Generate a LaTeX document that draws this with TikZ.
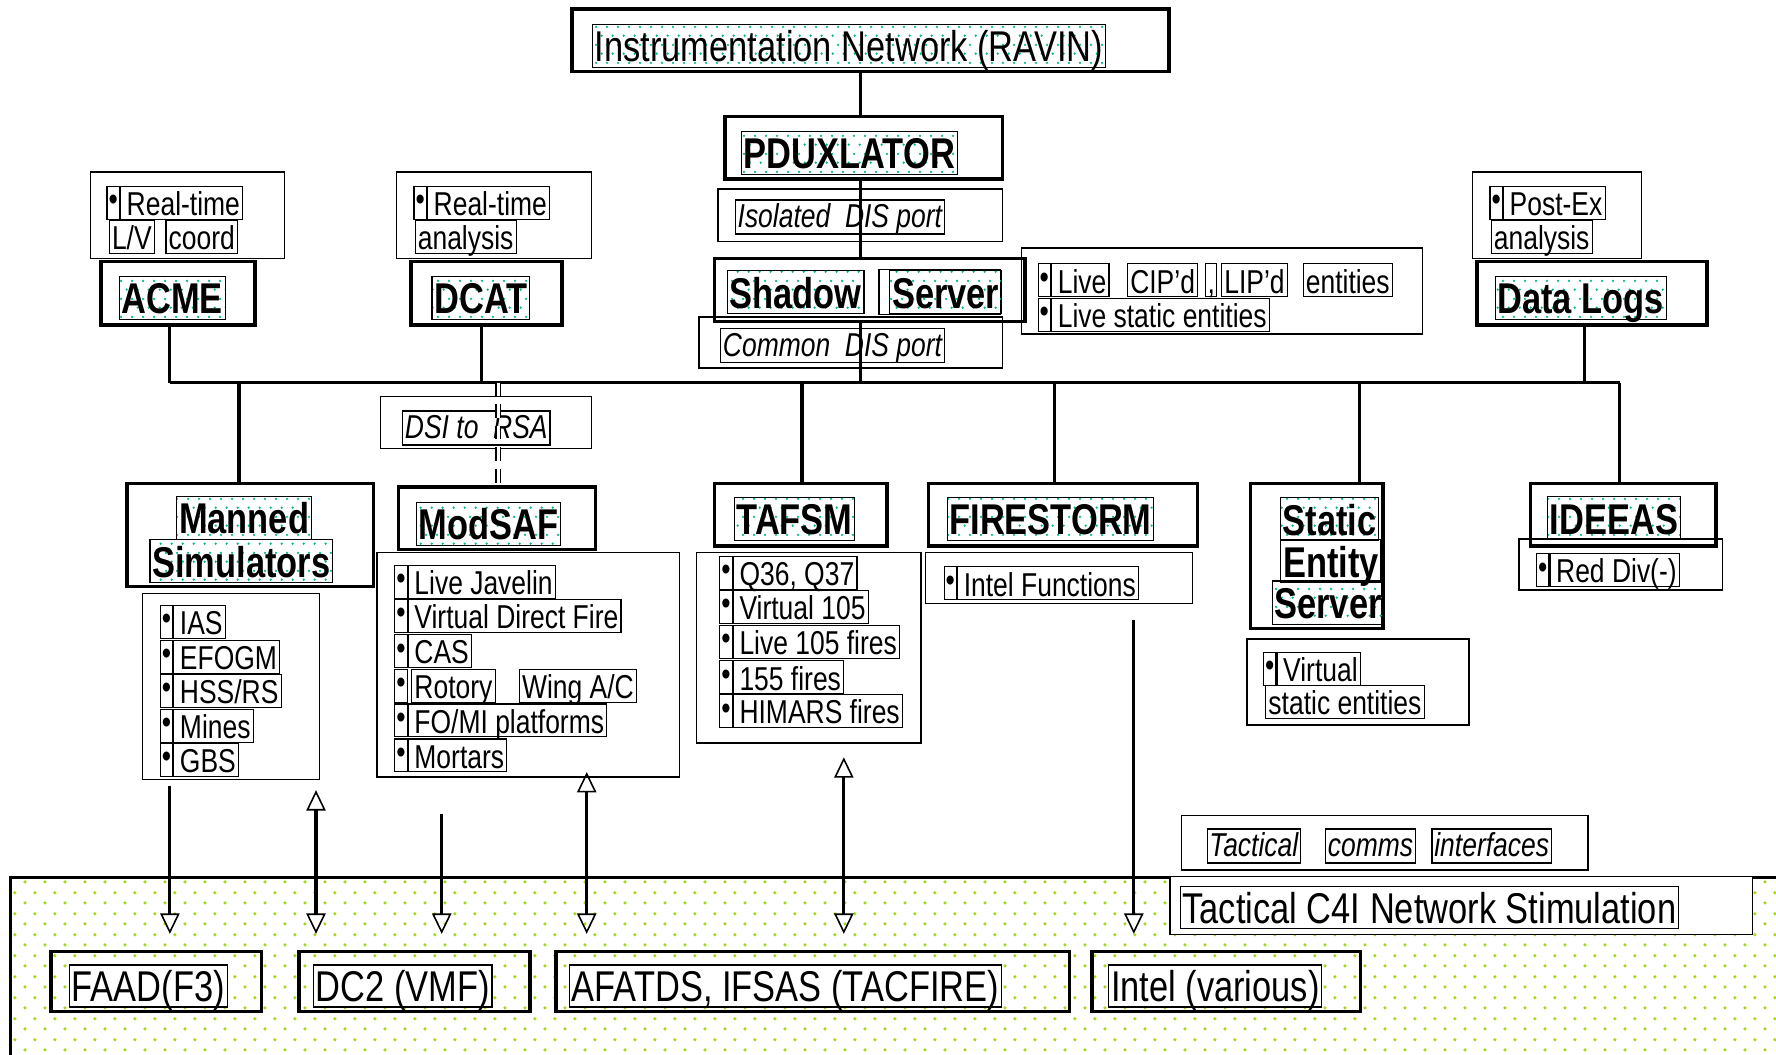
\documentclass[tikz,border=0pt]{standalone}
\usepackage{fontspec}
\setmainfont{Liberation Sans}[FakeStretch=0.8]
\usetikzlibrary{arrows.meta,patterns.meta}

\definecolor{tealdot}{RGB}{0,185,145}
\definecolor{greendot}{RGB}{165,215,25}

\tikzdeclarepattern{
  name=tealdots,
  type=uncolored,
  bounding box={(0pt,0pt) and (5pt,8pt)},
  tile size={(5pt,8pt)},
  code={\fill (1.25pt,2pt) circle (0.6pt); \fill (3.75pt,6pt) circle (0.6pt);}
}
\tikzdeclarepattern{
  name=greendots,
  type=uncolored,
  bounding box={(0pt,0pt) and (9pt,9.1pt)},
  tile size={(9pt,9.1pt)},
  code={\fill (2.25pt,2.275pt) circle (0.8pt); \fill (6.75pt,6.825pt) circle (0.8pt);}
}

\newcommand{\fbig}{\fontsize{19}{22}\selectfont}
\newcommand{\fsm}{\fontsize{14.6}{17}\selectfont}

\tikzset{
  thickbox/.style={draw, line width=1.5pt, inner sep=0pt},
  cbox/.style={draw, line width=0.6pt, fill=white, inner sep=0pt},
  ttlbase/.style={draw, line width=0.5pt, font=\fbig\bfseries, inner xsep=1pt, inner ysep=0pt,
    minimum height=19pt, text height=14pt, text depth=0pt},
  ttl/.style={ttlbase, pattern=tealdots, pattern color=tealdot},
  lbl/.style={draw, line width=0.5pt, fill=white, font=\fbig, inner xsep=1pt, inner ysep=0pt,
    minimum height=18.5pt, text height=14pt, text depth=0pt},
  ital/.style={draw, line width=0.6pt, font=\fsm\itshape, inner xsep=1pt, inner ysep=0pt,
    minimum height=15pt, text height=11pt, text depth=1.5pt},
  itm/.style={draw, line width=0.5pt, font=\fsm, inner xsep=1.2pt, inner ysep=0pt,
    minimum height=14.5pt, text height=11.6pt, text depth=0.4pt},
  bul/.style={draw, line width=0.5pt, font=\fsm, inner sep=0pt, minimum width=5.5pt, minimum height=14.5pt},
  conn/.style={line width=1.4pt},
  dashconn/.style={line width=0.5pt, double distance=1.6pt, dash pattern=on 6pt off 3.5pt},
  arr/.style={line width=1.4pt, -{Triangle[open, length=9pt, width=8.5pt, line width=0.7pt]}},
  arrb/.style={line width=1.4pt, {Triangle[open, length=9pt, width=8.5pt, line width=0.7pt]}-{Triangle[open, length=9pt, width=8.5pt, line width=0.7pt]}},
}

\newcommand{\blitem}[4]{%
  \node[bul, anchor=east] (#1b) at (#2,#3) {\textbullet};
  \node[itm, anchor=west] (#1) at (#2,#3) {\hspace{1.5pt}#4};
}

\begin{document}
\begin{tikzpicture}[x=0.5pt,y=-0.5pt]
\useasboundingbox (0,0) rectangle (1568,931);

% bottom stimulation region
\node[thickbox, pattern=greendots, pattern color=greendot, anchor=north west,
      minimum width=800pt, minimum height=100pt] (c4inet) at (8,773) {};

% container boxes
\node[cbox, minimum width=125.5pt, minimum height=23pt] (isobox) at (759.5,190) {};
\node[cbox, minimum width=134pt, minimum height=22.5pt] (combox) at (751,302.5) {};
\node[cbox, minimum width=177pt, minimum height=38pt] (livebox) at (1079,257) {};
\node[cbox, minimum width=85.5pt, minimum height=38pt] (acmenote) at (165.5,190) {};
\node[cbox, minimum width=86pt, minimum height=38pt] (dcatnote) at (436,190) {};
\node[cbox, minimum width=74.5pt, minimum height=38pt] (lognote) at (1374.5,190) {};
\node[cbox, minimum width=93pt, minimum height=23pt] (dsibox) at (429,373) {};
\node[cbox, minimum width=78pt, minimum height=82pt] (manlist) at (204,606) {};
\node[cbox, minimum width=133.5pt, minimum height=99pt] (modlist) at (466.5,587) {};
\node[cbox, minimum width=99pt, minimum height=84pt] (taflist) at (714,572) {};
\node[cbox, minimum width=118pt, minimum height=22.5pt] (firelist) at (935,510.5) {};
\node[cbox, minimum width=98pt, minimum height=38pt] (seslist) at (1199,602) {};
\node[cbox, minimum width=90pt, minimum height=22.5pt] (idelist) at (1431,498.5) {};
\node[cbox, minimum width=179.5pt, minimum height=24pt] (tacbox) at (1222.5,744) {};
\node[cbox, minimum width=257pt, minimum height=25.5pt] (c4ibox) at (1290,799.5) {};

% thick boxes
\node[thickbox, minimum width=263.5pt, minimum height=27.5pt] (ravin) at (768.5,35.5) {};
\node[thickbox, minimum width=122.5pt, minimum height=27.5pt] (pdux) at (762.5,130.5) {};
\node[thickbox, minimum width=137pt, minimum height=28pt] (shadow) at (768,256) {};
\node[thickbox, minimum width=68pt, minimum height=28pt] (acme) at (157,259) {};
\node[thickbox, minimum width=66.5pt, minimum height=28pt] (dcat) at (429.5,259) {};
\node[thickbox, minimum width=101.5pt, minimum height=28pt] (logs) at (1405.5,259) {};
\node[thickbox, minimum width=109pt, minimum height=45.5pt] (manned) at (221,472.5) {};
\node[thickbox, minimum width=87pt, minimum height=27.5pt] (modsaf) at (439,457.5) {};
\node[thickbox, minimum width=76pt, minimum height=27.5pt] (tafsm) at (707,454.5) {};
\node[thickbox, minimum width=118.5pt, minimum height=27.5pt] (fire) at (938.5,454.5) {};
\node[thickbox, minimum width=58.5pt, minimum height=64pt] (ses) at (1162.5,491) {};
\node[thickbox, minimum width=82pt, minimum height=27.5pt] (ideeas) at (1433,454.5) {};
\node[thickbox, minimum width=93pt, minimum height=26.5pt] (faad) at (138,866.5) {};
\node[thickbox, minimum width=102pt, minimum height=26.5pt] (dc2) at (366,866.5) {};
\node[thickbox, minimum width=226.5pt, minimum height=26.5pt] (afatds) at (717.5,866.5) {};
\node[thickbox, minimum width=118.5pt, minimum height=26.5pt] (intel) at (1082.5,866.5) {};

% titles
\node[ttl, font=\fbig] (ravint) at (749.5,40.5) {Instrumentation Network (RAVIN)};
\node[ttl] (puxt) at (750,135) {PDUXLATOR};
\node[ttl] (shadowt) at (702.5,258) {Shadow};
\node[ttlbase, minimum width=53.5pt, minimum height=20pt] (serverx) at (829.5,258) {};
\node[ttl] (servert) at (835,258) {Server};
\node[ttl] (acmet) at (152,263) {ACME};
\node[ttl] (dcatt) at (424.5,263) {DCAT};
\node[ttl] (logst) at (1395.5,263) {Data Logs};
\node[ttl] (mannedt) at (215.5,457) {Manned};
\node[ttl] (simt) at (213,495.5) {Simulators};
\node[ttl] (modsaft) at (431.5,462.5) {ModSAF};
\node[ttl] (tafsmt) at (701.5,458) {TAFSM};
\node[ttl] (firet) at (927.5,458) {FIRESTORM};
\node[ttl] (statict) at (1174,458.5) {Static};
\node[ttlbase] (entityt) at (1175,495.5) {Entity};
\node[ttl] (sesservert) at (1172.5,532) {Server};
\node[ttl] (ideeast) at (1425,457.5) {IDEEAS};

% italic labels
\node[ital] (isot) at (741.5,191.5) {Isolated\ \ DIS port};
\node[ital] (comt) at (735,305) {Common\ \ DIS port};
\node[ital] (dsit) at (420.5,378) {DSI to\ \ RSA};
\node[ital] (tact1) at (1107,747) {Tactical};
\node[ital] (tact2) at (1210,747) {comms};
\node[ital] (tact3) at (1317,747) {interfaces};

% bottom labels
\node[lbl] (faadt) at (131,870.5) {FAAD(F3)};
\node[lbl] (dc2t) at (355.5,870.5) {DC2 (VMF)};
\node[lbl] (afatdst) at (693.5,870.5) {AFATDS, IFSAS (TACFIRE)};
\node[lbl] (intelt) at (1073,870.5) {Intel (various)};
\node[lbl] (c4it) at (1262,801.5) {Tactical C4I Network Stimulation};

% list items
\blitem{lv1}{928}{247.5}{Live\hspace{1.5pt}}
\node[itm, anchor=west] (lv2) at (995,247.5) {CIP'd};
\node[itm, anchor=west, inner xsep=0.8pt] (lv3) at (1064,247.5) {,};
\node[itm, anchor=west] (lv4) at (1078,247.5) {LIP'd};
\node[itm, anchor=west] (lv5) at (1150,247.5) {entities};
\blitem{lv6}{928}{278}{Live static entities}

\blitem{an1}{106}{179}{Real-time}
\node[itm, anchor=west] (an2) at (96,209) {L/V};
\node[itm, anchor=west] (an3) at (146,209) {coord};

\blitem{dn1}{377}{179}{Real-time}
\node[itm, anchor=west] (dn2) at (366,209) {analysis};

\blitem{ln1}{1327}{179}{Post-Ex}
\node[itm, anchor=west] (ln2) at (1316,209) {analysis};

\blitem{ml1}{153}{549}{IAS}
\blitem{ml2}{153}{580}{EFOGM}
\blitem{ml3}{153}{610}{HSS/RS}
\blitem{ml4}{153}{641}{Mines}
\blitem{ml5}{153}{671}{GBS}

\blitem{mo1}{360}{514}{Live Javelin}
\blitem{mo2}{360}{544}{Virtual Direct Fire}
\blitem{mo3}{360}{575}{CAS}
\node[bul, anchor=east] (mo4b) at (360,605.5) {\textbullet};
\node[itm, anchor=west] (mo4) at (363,605.5) {Rotory};
\node[itm, anchor=west] (mo4w) at (458,605.5) {Wing A/C};
\blitem{mo5}{360}{636}{FO/MI platforms}
\blitem{mo6}{360}{667}{Mortars}

\blitem{tl1}{647}{506}{Q36, Q37}
\blitem{tl2}{647}{536}{Virtual 105}
\blitem{tl3}{647}{567}{Live 105 fires}
\blitem{tl4}{647}{598}{155 fires}
\blitem{tl5}{647}{628}{HIMARS fires}

\blitem{fl1}{845}{515}{Intel Functions}

\blitem{sl1}{1127}{590.5}{Virtual}
\node[itm, anchor=west] (sl2) at (1117,619.5) {static entities};

\blitem{il1}{1368}{503.5}{Red Div(-)}

% column coordinates on the bus
\coordinate (cAcme) at (150,338);
\coordinate (cDcat) at (425,338);
\coordinate (cSpine) at (760,338);
\coordinate (cLogs) at (1399,338);
\coordinate (cMan) at (211,338);
\coordinate (cMod) at (440,338);
\coordinate (cTaf) at (708,338);
\coordinate (cFire) at (931,338);
\coordinate (cSes) at (1200,338);
\coordinate (cIde) at (1430,338);

% spine
\draw[conn] (ravin.south -| cSpine) -- (pdux.north -| cSpine);
\draw[conn] (pdux.south -| cSpine) -- (shadow.north -| cSpine);
\draw[conn] (shadow.south -| cSpine) -- (cSpine);

% bus
\draw[conn] (cAcme) -- (cIde);
\draw[conn] (acme.south -| cAcme) -- (cAcme);
\draw[conn] (dcat.south -| cDcat) -- (cDcat);
\draw[conn] (logs.south -| cLogs) -- (cLogs);
\draw[conn] (cMan) -- (manned.north -| cMan);
\draw[dashconn] (cMod) -- (modsaf.north -| cMod);
\draw[conn] (cTaf) -- (tafsm.north -| cTaf);
\draw[conn] (cFire) -- (fire.north -| cFire);
\draw[conn] (cSes) -- (ses.north -| cSes);
\draw[conn] (cIde) -- (ideeas.north -| cIde);

% arrows to tactical systems
\coordinate (xa1) at (150,0);
\coordinate (xa2) at (279,0);
\coordinate (xa3) at (390,0);
\coordinate (xa4) at (518,0);
\coordinate (xa5) at (745,0);
\coordinate (xa6) at (1001,0);
\draw[arr, shorten <=2.5pt, shorten >=7pt] (manlist.south -| xa1) -- (faad.north -| xa1);
\draw[arrb, shorten <=4.5pt, shorten >=7pt] (manlist.south -| xa2) -- (dc2.north -| xa2);
\draw[arr, shorten <=16pt, shorten >=7pt] (modlist.south -| xa3) -- (dc2.north -| xa3);
\draw[arrb, shorten <=-2.5pt, shorten >=7pt] (modlist.south -| xa4) -- (afatds.north -| xa4);
\draw[arrb, shorten <=6pt, shorten >=7pt] (taflist.south -| xa5) -- (afatds.north -| xa5);
\draw[arr, shorten <=7pt, shorten >=7pt] (firelist.south -| xa6) -- (intel.north -| xa6);

\end{tikzpicture}
\end{document}
